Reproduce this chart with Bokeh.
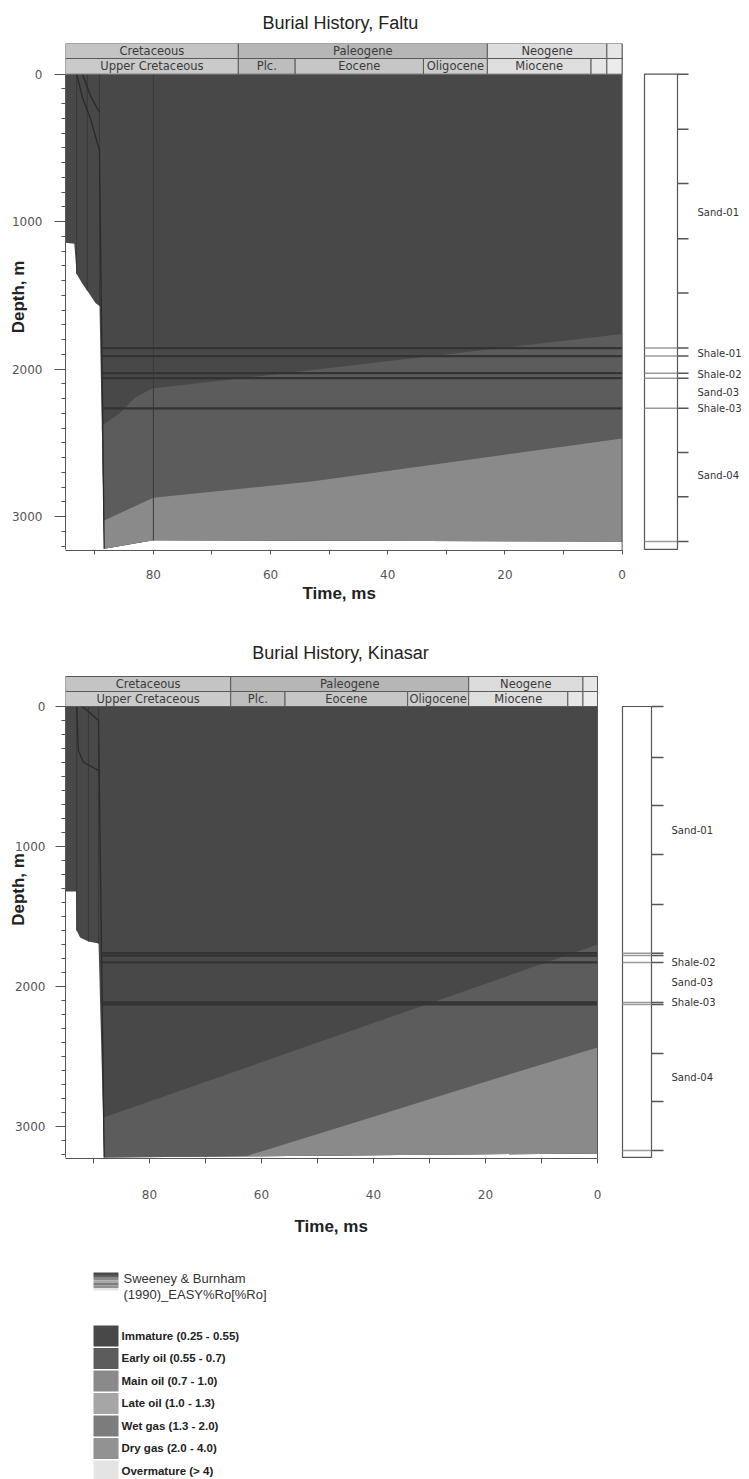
import numpy as np
from bokeh.plotting import figure
from bokeh.models import Range1d, FixedTicker, Title
from bokeh.layouts import column
from bokeh.core.properties import value
from bokeh.embed import file_html
from bokeh.resources import INLINE

# ------------------------------------------------------------------ data
period_names = ["Cretaceous", "Paleogene", "Neogene", ""]
period_bounds = [95.0, 65.5, 23.0, 2.6, 0.0]
epoch_names = ["Upper Cretaceous", "Plc.", "Eocene", "Oligocene", "Miocene", "", ""]
epoch_bounds = [95.0, 65.5, 55.8, 33.9, 23.0, 5.3, 2.6, 0.0]

time_ticks = [0, 10, 20, 30, 40, 50, 60, 70, 80, 90]
time_tick_labels = ["0", "", "20", "", "40", "", "60", "", "80", ""]
depth_ticks = [0, 1000, 2000, 3000]
depth_minor_ticks = [t for t in range(100, 3300, 100) if t % 1000]

maturity_names = ["Immature (0.25 - 0.55)", "Early oil (0.55 - 0.7)", "Main oil (0.7 - 1.0)",
                  "Late oil (1.0 - 1.3)", "Wet gas (1.3 - 2.0)", "Dry gas (2.0 - 4.0)",
                  "Overmature (> 4)"]
maturity_colors = ["#484848", "#5c5c5c", "#8a8a8a", "#a6a6a6", "#7c7c7c", "#929292", "#e4e4e4"]

# --- Faltu
faltu_base_t = [95.0, 93.5, 93.1, 92.1, 90.9, 89.9, 89.2, 88.4, 80.0, 0.0]
faltu_base_d = [1143, 1150, 1354, 1422, 1490, 1551, 1571, 3218, 3160, 3168]
faltu_early_t = [88.8, 85.8, 83.1, 80.2, 0.0]
faltu_early_d = [2381, 2300, 2192, 2131, 1762]
faltu_main_t = [88.5, 80.0, 53.0, 0.0]
faltu_main_d = [3027, 2871, 2762, 2469]
faltu_curve1_t = [93.1, 92.1, 90.75, 89.2, 88.4]
faltu_curve1_d = [0, 158, 300, 517, 3218]
faltu_curve2_t = [92.1, 90.75, 89.2]
faltu_curve2_d = [0, 145, 260]
faltu_steps = [93.1, 91.3, 89.2, 80.0]
faltu_horizons = [1857, 1911, 2027, 2061, 2265]
faltu_well_ticks = [0, 374, 741, 1116, 1483, 2565, 2864]
faltu_well_lines = [1857, 1911, 2027, 2061, 2265, 3168]
faltu_units = ["Sand-01", "Shale-01", "Shale-02", "Sand-03", "Shale-03", "Sand-04"]
faltu_unit_depth = [939, 1893, 2037, 2159, 2265, 2720]

# --- Kinasar
kin_base_t = [95.0, 93.1, 93.0, 92.4, 90.9, 89.1, 88.1, 60.0, 0.0]
kin_base_d = [1321, 1321, 1600, 1650, 1679, 1693, 3221, 3212, 3192]
kin_early_t = [88.2, 0.0]
kin_early_d = [2936, 1700]
kin_main_t = [62.8, 40.0, 20.0, 0.0]
kin_main_d = [3212, 2930, 2680, 2436]
kin_curve1_t = [93.0, 92.7, 91.8, 89.1]
kin_curve1_d = [0, 314, 398, 457]
kin_curve2_t = [92.1, 90.9, 89.1, 88.1]
kin_curve2_d = [0, 36, 100, 3221]
kin_steps = [93.0, 90.9, 89.1]
kin_horizons = [1762, 1779, 1828, 2114, 2128]
kin_well_ticks = [0, 364, 707, 1057, 1414, 2479, 2821]
kin_well_lines = [1762, 1779, 1828, 2114, 2128, 3171]
kin_units = ["Sand-01", "Shale-02", "Sand-03", "Shale-03", "Sand-04"]
kin_unit_depth = [886, 1829, 1971, 2114, 2650]

period_colors = ["#c4c4c4", "#b6b6b6", "#dcdcdc", "#e6e6e6"]
epoch_colors = ["#cacaca", "#bdbdbd", "#c6c6c6", "#cccccc", "#dedede", "#e6e6e6", "#ececec"]

SANS = value("Liberation Sans")
DV = value("DejaVu Sans")
FRAME_L = 65
FRAME_R = 745


def chart(title, g, base_t, base_d, early_t, early_d, main_t, main_d, curves, steps,
          horizons, steep_t, steep_d, well_ticks, well_lines, units, unit_depth):
    ppma = (g["t0"] - FRAME_L) / 95.0
    ppm = g["ppm"]

    def tx(px):
        return 95.0 - (px - FRAME_L) / ppma

    def dy(py):
        return (py - g["d0"]) / ppm

    x_end = tx(FRAME_R)
    y_top = dy(g["top"])
    y_bot = dy(g["bottom"])
    p = figure(width=749, height=g["h"], output_backend="svg", toolbar_location=None, title=None,
               x_range=Range1d(95, x_end), y_range=Range1d(y_bot, y_top),
               min_border_left=FRAME_L, min_border_right=749 - FRAME_R,
               min_border_top=g["top"] - g["y0"], min_border_bottom=g["y0"] + g["h"] - g["bottom"])
    p.outline_line_color = None
    p.grid.visible = False
    p.extra_x_ranges = {"px": Range1d(FRAME_L, FRAME_R)}

    # axes
    xa = p.xaxis[0]
    xa.ticker = FixedTicker(ticks=time_ticks, minor_ticks=[])
    xa.major_label_overrides = {t: l for t, l in zip(time_ticks, time_tick_labels)}
    xa.bounds = (0, 95)
    xa.major_tick_out = g["xtick"]
    xa.major_tick_in = 0
    xa.major_label_standoff = g["xstand"]
    ya = p.yaxis[0]
    ya.ticker = FixedTicker(ticks=depth_ticks, minor_ticks=depth_minor_ticks)
    ya.bounds = (0, g["dmax"])
    ya.major_tick_out = g["ytick"]
    ya.major_tick_in = 0
    ya.minor_tick_out = 4
    ya.minor_tick_in = 0
    ya.major_label_standoff = g["ystand"]
    ya.axis_label = "Depth, m"
    ya.axis_label_standoff = g["dstand"]
    ya.axis_label_text_font = "Liberation Sans"
    ya.axis_label_text_font_size = "17px"
    ya.axis_label_text_font_style = "bold"
    ya.axis_label_text_color = "#222222"
    for a in (xa, ya):
        a.axis_line_color = "#555555"
        a.major_tick_line_color = "#555555"
        a.minor_tick_line_color = "#555555"
        a.major_label_text_font = "DejaVu Sans"
        a.major_label_text_font_size = "12px"
        a.major_label_text_color = "#555555"

    # maturity zones
    sed_x = [95.0, 0.0] + base_t[::-1]
    sed_y = [0, 0] + base_d[::-1]
    p.patch(sed_x, sed_y, fill_color=maturity_colors[0], line_color=None)
    for bt, bd, col in ((early_t, early_d, maturity_colors[1]), (main_t, main_d, maturity_colors[2])):
        tail = [(t, d) for t, d in zip(base_t, base_d) if t < bt[0]][::-1]
        xs = list(bt) + [t for t, _ in tail]
        ys = list(bd) + [d for _, d in tail]
        p.patch(xs, ys, fill_color=col, line_color=None)

    # time-step verticals and burial curves
    bt_inc = base_t[::-1]
    bd_inc = base_d[::-1]
    p.segment(x0=steps, y0=[0] * len(steps), x1=steps,
              y1=list(np.interp(steps, bt_inc, bd_inc)), line_color="#383838", line_width=1)
    p.multi_line(xs=[c[0] for c in curves], ys=[c[1] for c in curves], line_color="#2a2a2a", line_width=1.3)

    # horizons
    hx0 = list(np.interp(horizons, steep_d, steep_t))
    p.segment(x0=hx0, y0=horizons, x1=[0] * len(horizons), y1=horizons, line_color="#333333", line_width=2.2)

    # time-scale header
    htop = dy(g["hdr"])
    split = dy(g["split"])
    p.segment(x0=[0], y0=[htop], x1=[0], y1=[y_bot], line_color="#555555", line_width=1)
    p.quad(left=period_bounds[:-1], right=period_bounds[1:], top=htop, bottom=split,
           fill_color=period_colors, line_color="#5a5a5a", line_width=1)
    p.quad(left=epoch_bounds[:-1], right=epoch_bounds[1:], top=split, bottom=0,
           fill_color=epoch_colors, line_color="#5a5a5a", line_width=1)
    p.text(x=[(a + b) / 2 for a, b in zip(period_bounds[:-1], period_bounds[1:])],
           y=[(htop + split) / 2] * len(period_names), text=period_names,
           text_font=DV, text_font_size="11.5px", text_color="#3a3a3a",
           text_align="center", text_baseline="middle")
    p.text(x=[(a + b) / 2 for a, b in zip(epoch_bounds[:-1], epoch_bounds[1:])],
           y=[split / 2] * len(epoch_names), text=epoch_names,
           text_font=DV, text_font_size="11.5px", text_color="#3a3a3a",
           text_align="center", text_baseline="middle")

    # well column
    wl, wr, we, wt = g["wl"], g["wr"], g["we"], g["wt"]
    p.quad(left=[wl], right=[wr], top=[0], bottom=[g["dmax"]], fill_color="white",
           line_color="#555555", line_width=1.2, x_range_name="px")
    p.segment(x0=[wl] * len(well_lines), y0=well_lines, x1=[wr] * len(well_lines), y1=well_lines,
              line_color="#9a9a9a", line_width=1.5, x_range_name="px")
    tks = well_ticks + well_lines
    p.segment(x0=[wr] * len(tks), y0=tks, x1=[we] * len(tks), y1=tks,
              line_color="#555555", line_width=1.5, x_range_name="px")
    p.text(x=[wt] * len(units), y=unit_depth, text=units, text_font=DV, text_font_size="10px",
           text_color="#333333", text_baseline="middle", x_range_name="px")

    # title and time label
    if g["top"] <= g["title"][1] - 12:
        p.text(x=[g["title"][0]], y=[dy(g["title"][1])], text=[title], x_range_name="px",
               text_font=SANS, text_font_size="18px", text_color="#222222",
               text_align="center", text_baseline="middle")
    else:
        p.add_layout(Title(text=title, align="left", offset=g["title"][0] - FRAME_L, standoff=g["tstand"],
                           text_font="Liberation Sans", text_font_size="18px", text_font_style="normal",
                           text_color="#222222"), "above")
    p.add_layout(Title(text="Time, ms", align="left", offset=g["tlab"][0] - FRAME_L, standoff=g["lstand"],
                       text_font="Liberation Sans", text_font_size="17px", text_font_style="bold",
                       text_color="#222222"), "below")
    return p


g_faltu = dict(h=620, y0=0, t0=621.6, top=43, hdr=43, d0=73.7, ppm=0.1475, bottom=550,
               dmax=3222, split=58, wl=644, wr=677, we=688, wt=697,
               title=(262, 20), tstand=21, tlab=(302, 591), lstand=0,
               xtick=4, xstand=15, ytick=11, ystand=12, dstand=-19)
g_kin = dict(h=630, y0=620, t0=597, top=620, hdr=676, d0=706, ppm=0.14, bottom=1158,
             dmax=3221, split=691, wl=622, wr=651, we=663, wt=671,
             title=(340, 652), tstand=10, tlab=(294, 1231), lstand=27,
             xtick=5, xstand=26, ytick=10, ystand=10, dstand=-16)

p1 = chart("Burial  History, Faltu", g_faltu, faltu_base_t, faltu_base_d, faltu_early_t, faltu_early_d,
           faltu_main_t, faltu_main_d,
           [(faltu_curve1_t, faltu_curve1_d), (faltu_curve2_t, faltu_curve2_d)], faltu_steps,
           faltu_horizons, faltu_curve1_t[-2:], faltu_curve1_d[-2:],
           faltu_well_ticks, faltu_well_lines, faltu_units, faltu_unit_depth)
p2 = chart("Burial History, Kinasar", g_kin, kin_base_t, kin_base_d, kin_early_t, kin_early_d,
           kin_main_t, kin_main_d,
           [(kin_curve1_t, kin_curve1_d), (kin_curve2_t, kin_curve2_d)], kin_steps,
           kin_horizons, kin_curve2_t[-2:], kin_curve2_d[-2:],
           kin_well_ticks, kin_well_lines, kin_units, kin_unit_depth)

# ------------------------------------------------------------------ legend
q = figure(width=749, height=229, output_backend="svg", toolbar_location=None, title=None,
           x_range=Range1d(FRAME_L, FRAME_R), y_range=Range1d(1479, 1250),
           x_axis_location=None, y_axis_location=None,
           min_border_left=FRAME_L, min_border_right=749 - FRAME_R, min_border_top=0, min_border_bottom=0)
q.grid.visible = False
q.outline_line_color = None
n = len(maturity_colors)
stripe = 18.0 / n
q.quad(left=[93] * n, right=[118] * n, top=[1272 + i * stripe for i in range(n)],
       bottom=[1272 + (i + 1) * stripe for i in range(n)], fill_color=maturity_colors, line_color=None)
q.text(x=[123, 123], y=[1278, 1294], text=["Sweeney & Burnham", "(1990)_EASY%Ro[%Ro]"],
       text_font=SANS, text_font_size="13px", text_color="#333333", text_baseline="middle")
step = 22.5
q.quad(left=[93] * n, right=[118] * n, top=[1325 + i * step for i in range(n)],
       bottom=[1325 + i * step + 21 for i in range(n)], fill_color=maturity_colors, line_color=None)
q.text(x=[121] * n, y=[1335 + i * step for i in range(n)], text=maturity_names,
       text_font=SANS, text_font_size="11.5px", text_font_style="bold", text_color="#222222",
       text_baseline="middle")

layout = column(p1, p2, q, spacing=0)
open("out.html", "w").write(file_html(layout, INLINE))
